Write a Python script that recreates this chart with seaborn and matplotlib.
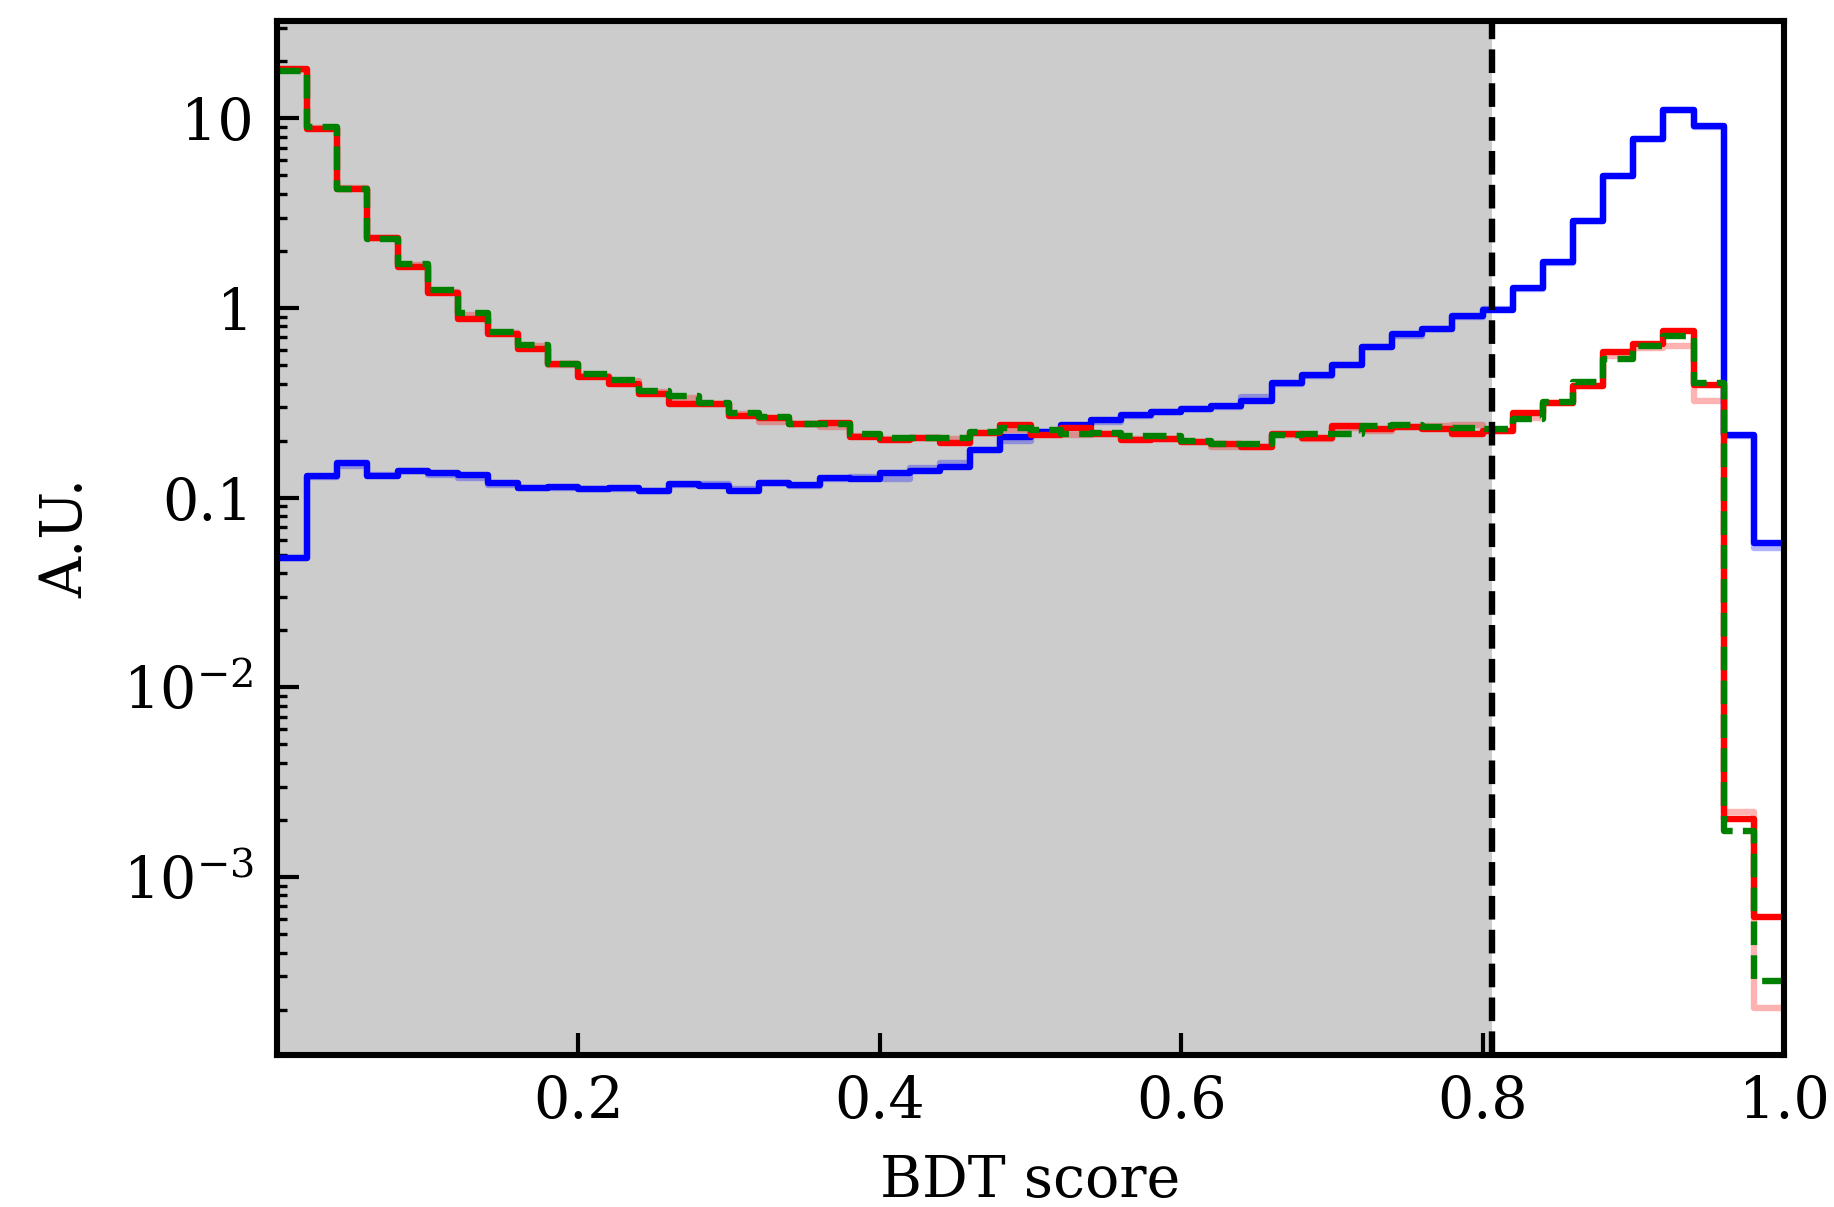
import numpy as np
import pandas as pd
import matplotlib
matplotlib.use("Agg")
import matplotlib.pyplot as plt
from matplotlib.ticker import NullFormatter
import seaborn as sns

# 50 equal-width bins of the BDT output
bin_edges = list(np.linspace(0.0, 1.0, 51))
score_cut = 0.806

# Normalised bin contents (A.U.)
sig_test = [0.048, 0.130, 0.153, 0.130, 0.139, 0.1355, 0.131, 0.119, 0.1125, 0.114,
            0.111, 0.112, 0.109, 0.118, 0.115, 0.109, 0.1196, 0.116, 0.127, 0.1255,
            0.135, 0.139, 0.145, 0.178, 0.209, 0.222, 0.241, 0.256, 0.272, 0.283,
            0.295, 0.304, 0.323, 0.404, 0.442, 0.503, 0.623, 0.733, 0.778, 0.905,
            0.975, 1.28, 1.75, 2.89, 4.98, 7.81, 11.1, 9.10, 0.215, 0.0576]
sig_train = [0.048, 0.129, 0.147, 0.131, 0.138, 0.132, 0.127, 0.117, 0.112, 0.113,
             0.111, 0.111, 0.109, 0.117, 0.118, 0.111, 0.119, 0.115, 0.126, 0.129,
             0.126, 0.143, 0.152, 0.178, 0.198, 0.222, 0.240, 0.252, 0.268, 0.283,
             0.293, 0.302, 0.340, 0.400, 0.437, 0.500, 0.620, 0.710, 0.775, 0.900,
             0.985, 1.26, 1.72, 2.87, 4.95, 7.80, 11.0, 9.05, 0.212, 0.0545]
bkg_test = [18.3, 8.75, 4.26, 2.35, 1.64, 1.20, 0.88, 0.73, 0.611, 0.509,
            0.433, 0.400, 0.354, 0.313, 0.310, 0.270, 0.263, 0.246, 0.248, 0.209,
            0.202, 0.206, 0.195, 0.219, 0.243, 0.213, 0.233, 0.216, 0.201, 0.203,
            0.197, 0.191, 0.185, 0.218, 0.207, 0.238, 0.231, 0.236, 0.231, 0.218,
            0.224, 0.280, 0.314, 0.387, 0.588, 0.645, 0.759, 0.391, 0.00203, 6.16e-4]
bkg_train = [18.0, 8.9, 4.30, 2.33, 1.68, 1.22, 0.92, 0.74, 0.630, 0.500,
             0.440, 0.410, 0.360, 0.335, 0.312, 0.275, 0.250, 0.245, 0.235, 0.212,
             0.203, 0.206, 0.203, 0.220, 0.228, 0.220, 0.215, 0.216, 0.205, 0.203,
             0.196, 0.186, 0.186, 0.215, 0.205, 0.232, 0.225, 0.236, 0.240, 0.243,
             0.226, 0.262, 0.315, 0.390, 0.556, 0.616, 0.630, 0.324, 0.00219, 2.03e-4]
bkg_alt = [17.8, 9.0, 4.26, 2.30, 1.71, 1.25, 0.94, 0.75, 0.641, 0.509,
           0.451, 0.416, 0.365, 0.344, 0.316, 0.280, 0.266, 0.244, 0.244, 0.218,
           0.206, 0.206, 0.206, 0.222, 0.233, 0.227, 0.218, 0.219, 0.211, 0.211,
           0.198, 0.193, 0.191, 0.213, 0.218, 0.218, 0.239, 0.241, 0.236, 0.232,
           0.229, 0.261, 0.321, 0.405, 0.536, 0.630, 0.708, 0.402, 0.00175, 2.83e-4]

x_ticks = [0.2, 0.4, 0.6, 0.8, 1.0]
x_tick_labels = ["0.2", "0.4", "0.6", "0.8", "1.0"]
y_ticks = [1e-3, 1e-2, 0.1, 1, 10]
y_tick_labels = [r"$10^{-3}$", r"$10^{-2}$", "0.1", "1", "10"]

sns.set_style("ticks")
plt.rcParams.update({
    "font.family": ["DejaVu Serif"],
    "mathtext.fontset": "dejavuserif",
    "font.size": 20.5,
    "axes.linewidth": 2.2,
    "axes.edgecolor": "black",
    "text.color": "black",
    "axes.labelcolor": "black",
    "xtick.color": "black",
    "ytick.color": "black",
})

centers = [0.5 * (a + b) for a, b in zip(bin_edges[:-1], bin_edges[1:])]
hists = pd.DataFrame({
    "score": centers,
    "sig_train": sig_train,
    "bkg_train": bkg_train,
    "sig_test": sig_test,
    "bkg_test": bkg_test,
    "bkg_alt": bkg_alt,
})

W, H, DPI = 1834, 1207, 200
fig = plt.figure(figsize=(W / DPI, H / DPI), dpi=DPI)
left, right, top, bottom = 277 / W, 1784 / W, 21 / H, 1055 / H
ax = fig.add_axes([left, 1 - bottom, right - left, bottom - top])

ax.axvspan(0.0, score_cut, color="#cccccc", lw=0, zorder=0)

styles = [
    ("sig_train", "blue", 0.3, "-"),
    ("bkg_train", "red", 0.3, "-"),
    ("sig_test", "blue", 1.0, "-"),
    ("bkg_test", "red", 1.0, "-"),
    ("bkg_alt", "green", 1.0, "--"),
]
for col, color, alpha, ls in styles:
    sns.histplot(data=hists, x="score", weights=col, bins=bin_edges,
                 element="step", fill=False, color=color, alpha=alpha,
                 linestyle=ls, linewidth=2.3, ax=ax)

ax.axvline(score_cut, color="black", linestyle="--", linewidth=2.3, zorder=5)

ax.set_yscale("log")
ax.set_xlim(0.0, 1.0)
ax.set_ylim(1.153e-4, 32.6)
ax.set_xticks(x_ticks, x_tick_labels)
ax.set_yticks(y_ticks, y_tick_labels)
ax.yaxis.set_minor_formatter(NullFormatter())

ax.tick_params(which="major", direction="in", length=8, width=1.5,
               labelsize=20.5, colors="black", top=False, right=False)
ax.tick_params(axis="x", which="major", pad=7)
ax.tick_params(axis="y", which="major", pad=8.5)
ax.tick_params(axis="y", which="minor", direction="in", length=3.6, width=1.2,
               colors="black", left=True, right=False)
ax.tick_params(axis="x", which="minor", bottom=False, top=False)

ax.set_xlabel("BDT score", fontsize=20.5, labelpad=8, color="black")
ax.set_ylabel("A.U.", fontsize=20.5, labelpad=10, color="black")

for s in ax.spines.values():
    s.set_visible(True)
    s.set_linewidth(2.2)
    s.set_color("black")
    s.set_zorder(6)

fig.savefig("out.png", dpi=DPI)
